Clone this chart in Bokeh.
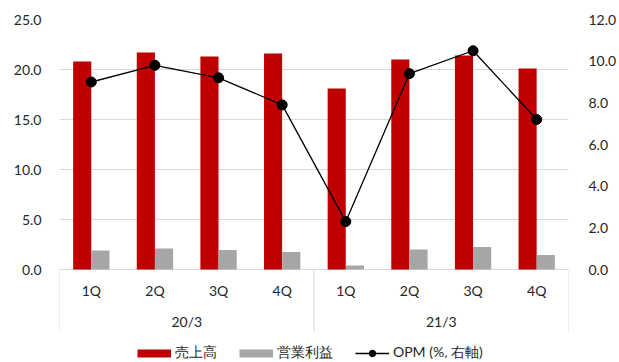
from bokeh.plotting import figure
from bokeh.models import (FactorRange, Range1d, LinearAxis, FixedTicker, ColumnDataSource,
                          Legend, LegendItem, PrintfTickFormatter)
from bokeh.transform import dodge
from bokeh.core.properties import value
from bokeh.embed import file_html
from bokeh.resources import INLINE

# Fiscal years and quarters
years = ["20/3", "21/3"]
quarters = ["1Q", "2Q", "3Q", "4Q"]

# Sales and operating profit (left axis), operating margin in % (right axis)
sales = [20.8, 21.7, 21.3, 21.6, 18.1, 21.0, 21.4, 20.1]
op_profit = [1.9, 2.1, 1.95, 1.75, 0.4, 2.0, 2.25, 1.45]
opm = [9.0, 9.8, 9.2, 7.9, 2.3, 9.4, 10.5, 7.2]

left_ticks = [0, 5, 10, 15, 20, 25]
right_ticks = [0, 2, 4, 6, 8, 10, 12]

series_names = ["売上高", "営業利益", "OPM (%, 右軸)"]

FONT = "Lato"
FONT_SIZE = "14px"
TEXT_COLOR = "#262626"
GRID_COLOR = "#d9d9d9"
RED = "#C00000"
GREY = "#A6A6A6"

factors = [(y, q) for y in years for q in quarters]
src = ColumnDataSource(dict(x=factors, sales=sales, op=op_profit, opm=opm))

x_range = FactorRange(*factors, factor_padding=0, group_padding=0, range_padding=0)

p = figure(width=619, height=362, x_range=x_range, y_range=Range1d(-9.3, 25),
           output_backend="svg", toolbar_location=None, x_axis_location=None,
           min_border_left=59, min_border_right=43, min_border_top=19, min_border_bottom=0)
p.outline_line_color = None
p.background_fill_color = "white"
p.border_fill_color = "white"

# Left axis
ya = p.yaxis[0]
ya.ticker = FixedTicker(ticks=left_ticks)
ya.formatter = PrintfTickFormatter(format="%.1f")
ya.axis_line_color = None
ya.major_tick_line_color = None
ya.minor_tick_line_color = None
ya.major_label_standoff = 12
ya.major_label_text_font = FONT
ya.major_label_text_font_size = FONT_SIZE
ya.major_label_text_color = TEXT_COLOR

# Right axis for the margin line
p.extra_y_ranges = {"opm": Range1d(-4.464, 12)}
ra = LinearAxis(y_range_name="opm", ticker=FixedTicker(ticks=right_ticks),
                formatter=PrintfTickFormatter(format="%.1f"))
ra.axis_line_color = None
ra.major_tick_line_color = None
ra.minor_tick_line_color = None
ra.major_label_standoff = 14
ra.major_label_text_font = FONT
ra.major_label_text_font_size = FONT_SIZE
ra.major_label_text_color = TEXT_COLOR
p.add_layout(ra, "right")

p.xgrid.visible = False
p.ygrid.ticker = FixedTicker(ticks=left_ticks)
p.ygrid.grid_line_color = GRID_COLOR
p.ygrid.grid_line_width = 1

# Bars
r_sales = p.vbar(x=dodge("x", -0.143, range=x_range), top="sales", bottom=0, width=0.285,
                 source=src, fill_color=RED, line_color=None)
r_op = p.vbar(x=dodge("x", 0.143, range=x_range), top="op", bottom=0, width=0.285,
              source=src, fill_color=GREY, line_color=None)

# Margin line with markers
r_line = p.line(x="x", y="opm", source=src, y_range_name="opm", line_color="black", line_width=1.3)
r_pts = p.scatter(x="x", y="opm", source=src, y_range_name="opm", size=10,
                  fill_color="black", line_color="black")

# Flat swatches for the bar series in the legend (single off-range point, nothing drawn in the plot)
sw_src = ColumnDataSource(dict(x=[factors[0]], y=[-1000]))
sw_sales = p.line(x="x", y="y", source=sw_src, line_color=RED, line_width=8, line_cap="butt")
sw_op = p.line(x="x", y="y", source=sw_src, line_color=GREY, line_width=8, line_cap="butt")

# Category table separators under the axis
sep = ColumnDataSource(dict(
    x=[("20/3", "1Q", -0.5), ("20/3", "4Q", 0.5), ("21/3", "4Q", 0.5)],
    y0=[0, 0, 0], y1=[-6.2, -6.2, -6.2]))
p.segment(x0="x", y0="y0", x1="x", y1="y1", source=sep, line_color=GRID_COLOR, line_width=1)

# Quarter and fiscal-year labels
p.text(x=factors, y=[-2.1] * len(factors), text=[q for _, q in factors],
       text_align="center", text_baseline="middle", text_font=value(FONT),
       text_font_size=FONT_SIZE, text_color=TEXT_COLOR)
p.text(x=years, y=[-5.2] * len(years), text=years,
       text_align="center", text_baseline="middle", text_font=value(FONT),
       text_font_size=FONT_SIZE, text_color=TEXT_COLOR)

legend = Legend(items=[LegendItem(label=series_names[0], renderers=[sw_sales]),
                       LegendItem(label=series_names[1], renderers=[sw_op]),
                       LegendItem(label=series_names[2], renderers=[r_line, r_pts])],
                location=(78, 0), orientation="horizontal")
legend.border_line_color = None
legend.background_fill_alpha = 0
legend.padding = 0
legend.margin = 0
legend.spacing = 22
legend.label_standoff = 4
legend.glyph_width = 34
legend.glyph_height = 16
legend.label_height = 16
legend.label_text_font = FONT
legend.label_text_font_size = FONT_SIZE
legend.label_text_color = TEXT_COLOR
legend.label_text_baseline = "middle"
p.add_layout(legend)

open("out.html", "w").write(file_html(p, INLINE))
